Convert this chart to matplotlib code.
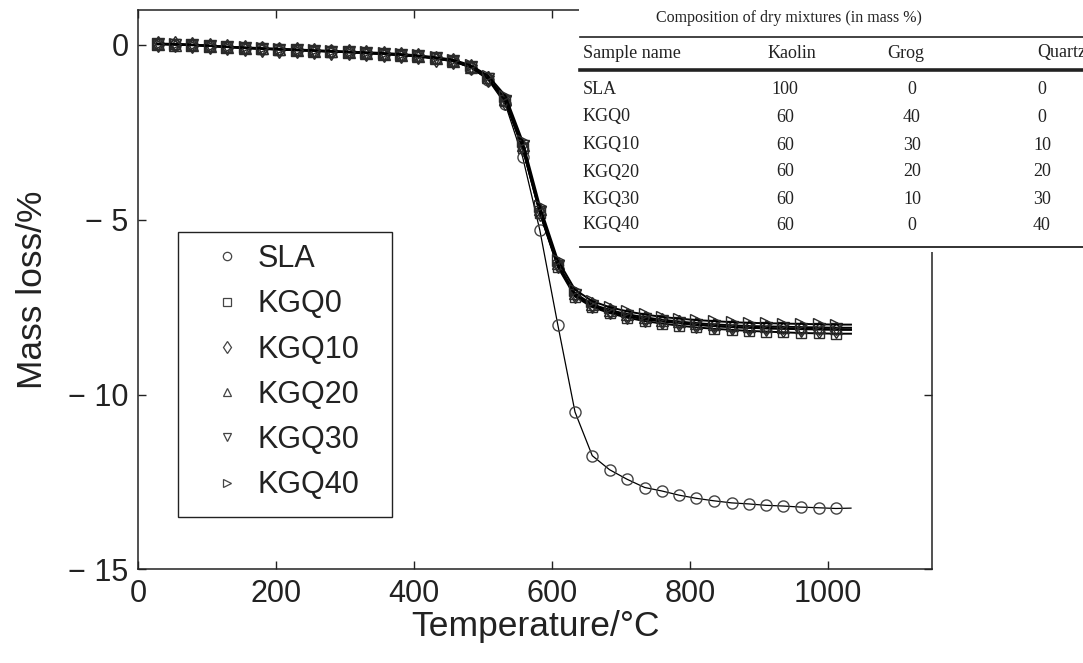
import matplotlib
matplotlib.use("Agg")
import matplotlib.pyplot as plt
from matplotlib.lines import Line2D
from matplotlib.patches import Rectangle

# ---------------- data ----------------
temperature = [28, 53, 78, 104, 129, 154, 179, 204, 230, 255, 280, 305, 330, 356,
               381, 406, 431, 456, 482, 507, 532, 557, 582, 608, 633, 658, 683,
               708, 734, 759, 784, 809, 834, 860, 885, 910, 935, 960, 986, 1011, 1033]

sla = [0.02, 0.01, 0.0, -0.03, -0.06, -0.08, -0.10, -0.12, -0.14, -0.16, -0.18,
       -0.20, -0.22, -0.25, -0.28, -0.32, -0.37, -0.45, -0.65, -1.0, -1.7, -3.2,
       -5.3, -8.0, -10.5, -11.75, -12.15, -12.42, -12.66, -12.76, -12.88, -12.97,
       -13.04, -13.1, -13.13, -13.17, -13.19, -13.22, -13.24, -13.26, -13.25]

kgq0 = [0.03, 0.02, 0.0, -0.03, -0.06, -0.09, -0.11, -0.13, -0.15, -0.17, -0.19,
        -0.21, -0.23, -0.26, -0.29, -0.33, -0.38, -0.46, -0.63, -0.95, -1.6, -2.95,
        -4.8, -6.35, -7.2, -7.5, -7.67, -7.8, -7.9, -7.97, -8.03, -8.08, -8.12,
        -8.15, -8.18, -8.2, -8.22, -8.24, -8.25, -8.26, -8.26]

kgq10 = [0.02, 0.02, -0.01, -0.03, -0.06, -0.08, -0.11, -0.13, -0.15, -0.17, -0.19,
         -0.21, -0.24, -0.26, -0.29, -0.33, -0.39, -0.47, -0.64, -0.97, -1.62, -2.95,
         -4.8, -6.3, -7.15, -7.45, -7.62, -7.74, -7.83, -7.9, -7.95, -8.0, -8.04,
         -8.07, -8.09, -8.11, -8.12, -8.13, -8.14, -8.15, -8.15]

kgq20 = [0.03, 0.01, 0.0, -0.02, -0.05, -0.08, -0.10, -0.12, -0.14, -0.16, -0.18,
         -0.20, -0.22, -0.25, -0.28, -0.32, -0.37, -0.45, -0.62, -0.92, -1.55, -2.85,
         -4.7, -6.25, -7.1, -7.42, -7.58, -7.7, -7.79, -7.86, -7.91, -7.96, -7.99,
         -8.02, -8.04, -8.05, -8.06, -8.07, -8.08, -8.09, -8.09]

kgq30 = [0.02, 0.01, 0.0, -0.03, -0.06, -0.09, -0.11, -0.13, -0.15, -0.17, -0.19,
         -0.21, -0.23, -0.26, -0.29, -0.33, -0.38, -0.46, -0.64, -0.96, -1.6, -2.9,
         -4.78, -6.32, -7.15, -7.46, -7.63, -7.76, -7.85, -7.91, -7.96, -8.01, -8.04,
         -8.07, -8.09, -8.1, -8.11, -8.12, -8.13, -8.13, -8.14]

kgq40 = [0.04, 0.03, 0.01, -0.02, -0.05, -0.07, -0.09, -0.11, -0.13, -0.15, -0.17,
         -0.19, -0.21, -0.23, -0.26, -0.30, -0.35, -0.42, -0.58, -0.88, -1.45, -2.75,
         -4.6, -6.15, -7.0, -7.33, -7.5, -7.62, -7.71, -7.78, -7.83, -7.87, -7.9,
         -7.93, -7.95, -7.96, -7.97, -7.98, -7.99, -8.0, -8.0]

series_names = ["SLA", "KGQ0", "KGQ10", "KGQ20", "KGQ30", "KGQ40"]
series_values = [sla, kgq0, kgq10, kgq20, kgq30, kgq40]
series_markers = ["o", "s", "d", "^", "v", ">"]

xticks = [0, 200, 400, 600, 800, 1000]
xticklabels = ["0", "200", "400", "600", "800", "1000"]
yticks = [0, -5, -10, -15]
yticklabels = ["0", "\u2212 5", "\u2212 10", "\u2212 15"]

table_title = "Composition of dry mixtures (in mass %)"
table_columns = ["Sample name", "Kaolin", "Grog", "Quartz"]
table_samples = ["SLA", "KGQ0", "KGQ10", "KGQ20", "KGQ30", "KGQ40"]
table_kaolin = [100, 60, 60, 60, 60, 60]
table_grog = [0, 40, 30, 20, 10, 0]
table_quartz = [0, 0, 10, 20, 30, 40]

# ---------------- figure ----------------
W, H = 1083, 663
plt.rcParams["font.family"] = ["Liberation Sans", "DejaVu Sans"]
fig = plt.figure(figsize=(W / 100, H / 100), dpi=100)
AX_L, AX_R, AX_T, AX_B = 138.3, 931.7, 10.0, 569.3
ax = fig.add_axes([AX_L / W, 1 - AX_B / H, (AX_R - AX_L) / W, (AX_B - AX_T) / H])

def axx(px):
    return (px - AX_L) / (AX_R - AX_L)

def axy(py):
    return (AX_B - py) / (AX_B - AX_T)

marker_sizes = {"o": 8, "s": 7, "d": 8.5, "^": 8, "v": 8, ">": 8}
n_mark = len(temperature) - 1
for name, vals, mk in zip(series_names, series_values, series_markers):
    lw = 0.9 if name == "SLA" else 1.4
    mec = "#444444" if name == "SLA" else "#2a2a2a"
    ax.plot(temperature, vals, color="black", lw=lw, marker=mk,
            ms=marker_sizes[mk], mfc="none", mec=mec, mew=1.0,
            markevery=slice(0, n_mark), zorder=3)

ax.set_xlim(0, 1150)
ax.set_ylim(-15, 1)
ax.set_xticks(xticks)
ax.set_xticklabels(xticklabels)
ax.set_yticks(yticks)
ax.set_yticklabels(yticklabels)
ax.tick_params(direction="in", top=True, right=True, length=6, width=1,
               labelsize=22, pad=7, colors="#222222")
for sp in ax.spines.values():
    sp.set_linewidth(1.1)
    sp.set_color("#222222")

ax.set_xlabel("Temperature/\u00b0C", fontsize=25.5, color="#222222", labelpad=1)
ax.set_ylabel("Mass loss/%", fontsize=25.5, color="#222222", labelpad=14)

# legend (frame drawn separately to match the wide box of the original)
handles = [Line2D([], [], ls="none", marker=mk, ms=6, mfc="none",
                  mec="#444444", mew=0.9) for mk in series_markers]
leg = ax.legend(handles, series_names, loc="upper left",
                bbox_to_anchor=(axx(203), axy(244)),
                fontsize=22, frameon=False, handlelength=1.6,
                handletextpad=0.2, labelspacing=0.5, borderpad=0,
                borderaxespad=0)
for t in leg.get_texts():
    t.set_color("#222222")
ax.add_patch(Rectangle((axx(178), axy(517)), axx(392) - axx(178),
                       axy(232) - axy(517), transform=ax.transAxes,
                       facecolor="white", edgecolor="#222222", lw=1.0,
                       zorder=2.5))

# ---------------- table overlay ----------------
def fx(x):
    return x / W

def fy(y):
    return 1 - y / H

fig.add_artist(Rectangle((fx(579), fy(252)), fx(W) - fx(579), fy(0) - fy(252),
                         transform=fig.transFigure, facecolor="white",
                         edgecolor="none", zorder=10))
serif = ["Liberation Serif", "DejaVu Serif"]
fig.text(fx(789), fy(18), table_title, ha="center", va="center",
         fontsize=11.5, family=serif, color="#222222", zorder=11)
for yy, lw in [(37, 1.2), (70, 2.6), (247, 1.3)]:
    fig.add_artist(Line2D([fx(580), fx(W)], [fy(yy), fy(yy)],
                          transform=fig.transFigure, color="#222222",
                          lw=lw, zorder=11))
header_x = [583, 792, 906, 1037]
header_ha = ["left", "center", "center", "left"]
for txt, xx, ha in zip(table_columns, header_x, header_ha):
    fig.text(fx(xx), fy(53), txt, ha=ha, va="center", fontsize=13,
             family=serif, color="#222222", zorder=11)
row_y = [90, 117, 145, 172, 199, 225]
for i, yy in enumerate(row_y):
    fig.text(fx(583), fy(yy), table_samples[i], ha="left", va="center",
             fontsize=13, family=serif, color="#222222", zorder=11)
    fig.text(fx(785), fy(yy), str(table_kaolin[i]), ha="center", va="center",
             fontsize=13, family=serif, color="#222222", zorder=11)
    fig.text(fx(912), fy(yy), str(table_grog[i]), ha="center", va="center",
             fontsize=13, family=serif, color="#222222", zorder=11)
    fig.text(fx(1042), fy(yy), str(table_quartz[i]), ha="center", va="center",
             fontsize=13, family=serif, color="#222222", zorder=11)

fig.savefig("out.png", dpi=100)
